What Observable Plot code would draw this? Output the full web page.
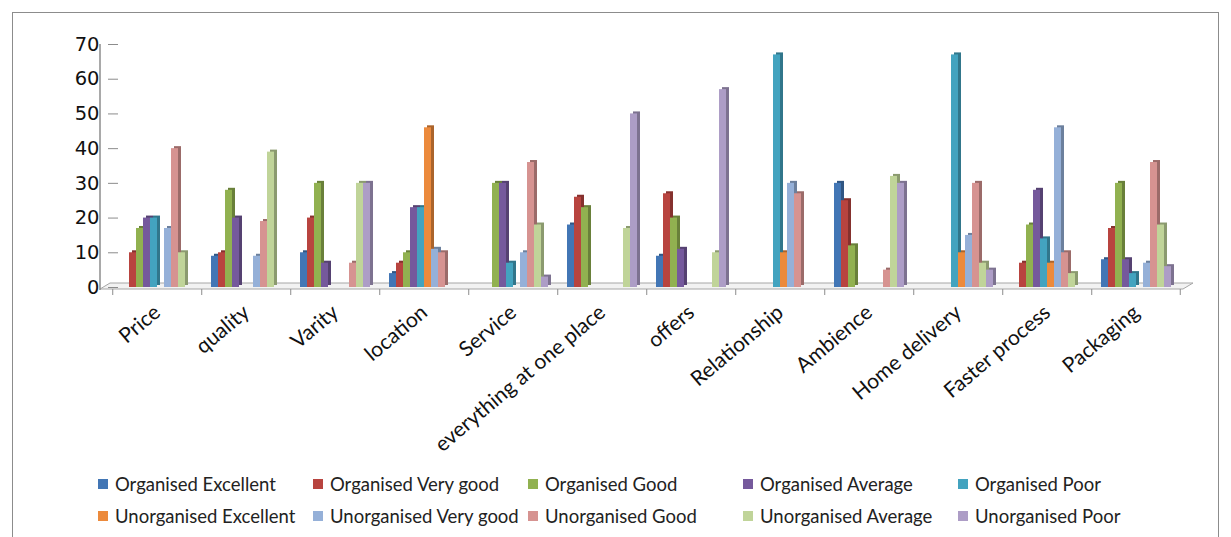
<!DOCTYPE html>
<html><head><meta charset="utf-8">
<script src="https://cdn.jsdelivr.net/npm/d3@7"></script>
<script src="https://cdn.jsdelivr.net/npm/@observablehq/plot@0.6"></script>
<style>
html,body{margin:0;padding:0;background:#fff;overflow:hidden;font-family:Lato,sans-serif;}
#frame{position:absolute;left:12px;top:12px;width:1207px;height:540px;border:1px solid #8c8c8c;box-sizing:border-box;}
#chart{position:absolute;left:0;top:0;}
#legend{position:absolute;left:98px;top:473px;display:grid;grid-template-columns:215px 215px 215px 215px 240px;row-gap:11px;font-size:18.5px;color:#222;}
.item{display:flex;align-items:center;white-space:nowrap;height:21px;}
.sw{width:10px;height:10px;margin-right:7px;flex:none;}
</style></head>
<body>
<div id="frame"></div>
<div id="chart"></div>
<div id="legend"></div>
<script>
const categories = ["Price","quality","Varity","location","Service","everything at one place","offers","Relationship","Ambience","Home delivery","Faster process","Packaging"];
const seriesNames = ["Organised Excellent","Organised Very good","Organised Good","Organised Average","Organised Poor","Unorganised Excellent","Unorganised Very good","Unorganised Good","Unorganised Average","Unorganised Poor"];
const organisedExcellent   = [0, 9, 10, 4, 0, 18, 9, 0, 30, 0, 0, 8];
const organisedVeryGood    = [10, 10, 20, 7, 0, 26, 27, 0, 25, 0, 7, 17];
const organisedGood        = [17, 28, 30, 10, 30, 23, 20, 0, 12, 0, 18, 30];
const organisedAverage     = [20, 20, 7, 23, 30, 0, 11, 0, 0, 0, 28, 8];
const organisedPoor        = [20, 0, 0, 23, 7, 0, 0, 67, 0, 67, 14, 4];
const unorganisedExcellent = [0, 0, 0, 46, 0, 0, 0, 10, 0, 10, 7, 0];
const unorganisedVeryGood  = [17, 9, 0, 11, 10, 0, 0, 30, 0, 15, 46, 7];
const unorganisedGood      = [40, 19, 7, 10, 36, 0, 0, 27, 5, 30, 10, 36];
const unorganisedAverage   = [10, 39, 30, 0, 18, 17, 10, 0, 32, 7, 4, 18];
const unorganisedPoor      = [0, 0, 30, 0, 3, 50, 57, 0, 30, 5, 0, 6];
const yTicks = [0, 10, 20, 30, 40, 50, 60, 70];
const colors = ["#4276b5","#b8443f","#91b150","#75599c","#43a3bf","#ec8a3c","#95b0d8","#d69391","#c0d499","#ad9dc6"];

const seriesValues = [organisedExcellent, organisedVeryGood, organisedGood, organisedAverage, organisedPoor,
  unorganisedExcellent, unorganisedVeryGood, unorganisedGood, unorganisedAverage, unorganisedPoor];
const rows = [];
categories.forEach((c, i) => seriesNames.forEach((s, j) => rows.push({category: c, series: s, value: seriesValues[j][i]})));
const shades = colors.map(c => d3.color(c).darker(0.9).formatHex());

const shadowMarks = seriesNames.map((s, j) =>
  Plot.barY(rows.filter(r => r.series === s && r.value > 0), {fx: "category", x: "series", y: "value", fill: shades[j], dx: 3, dy: -2}));

const plot = Plot.plot({
  width: 1231, height: 472,
  marginTop: 44, marginBottom: 185, marginLeft: 100, marginRight: 38,
  style: {fontFamily: "Lato, sans-serif", fontSize: "18px", background: "transparent", color: "#111"},
  fx: {domain: categories, paddingInner: 0.118, paddingOuter: 0.156, label: null},
  x: {domain: seriesNames, padding: 0, axis: null},
  y: {domain: [0, 70], label: null},
  color: {domain: seriesNames, range: colors},
  marks: [
    Plot.axisY({ticks: yTicks, tickSize: 10, tickPadding: 9, stroke: "#8c8c8c", fill: "#111", fontSize: 19.5, fontFamily: "DejaVu Sans, sans-serif", label: null}),
    Plot.axisFx({anchor: "bottom", tickRotate: -40, tickSize: 0, tickPadding: 22, dx: 0, fontSize: 21, fill: "#111", label: null}),
    ...shadowMarks,
    Plot.barY(rows.filter(r => r.value > 0), {fx: "category", x: "series", y: "value", fill: "series"})
  ]
});
document.getElementById("chart").appendChild(plot);

// axis line, 3D floor and category tick marks derived from the scales
const ys = plot.scale("y"), fxs = plot.scale("fx");
const y0 = ys.apply(0), y70 = ys.apply(70);
const left = fxs.range[0], right = fxs.range[1];
const step = fxs.step, pin = step * 0.118;
const svg = d3.select(plot);
const deco = svg.insert("g", ":first-child");
deco.append("path")
  .attr("d", `M${left},${y0 + 2}L${left + 10},${y0 - 4}L${right},${y0 - 4}L${right - 10},${y0 + 2}Z`)
  .attr("fill", "#f2f2f2").attr("stroke", "#a6a6a6").attr("stroke-width", 1);
deco.append("line").attr("x1", left).attr("x2", left).attr("y1", y70).attr("y2", y0 + 3)
  .attr("stroke", "#8c8c8c").attr("stroke-width", 1.5);
categories.forEach((c, i) => {
  const x = fxs.apply(c) - pin / 2;
  deco.append("line").attr("x1", x).attr("x2", x).attr("y1", y0 + 2).attr("y2", y0 + 8).attr("stroke", "#8c8c8c");
});
{
  const x = fxs.apply(categories[categories.length - 1]) + fxs.bandwidth + pin / 2;
  deco.append("line").attr("x1", x).attr("x2", x).attr("y1", y0 + 2).attr("y2", y0 + 8).attr("stroke", "#8c8c8c");
}

const legend = d3.select("#legend");
seriesNames.forEach((s, j) => {
  const it = legend.append("div").attr("class", "item");
  it.append("span").attr("class", "sw").style("background", colors[j]);
  it.append("span").text(s);
});
</script>
</body></html>
